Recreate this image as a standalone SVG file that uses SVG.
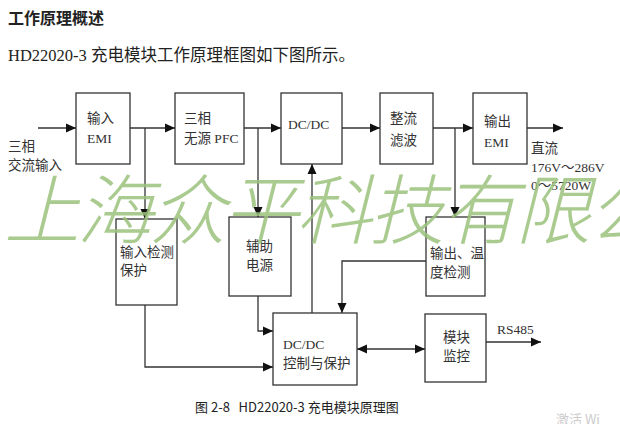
<svg xmlns="http://www.w3.org/2000/svg" width="620" height="424" viewBox="0 0 620 424">
<style>
.box{fill:#fff;stroke:#333;stroke-width:1.3}
.t{font-family:"Liberation Serif","Noto Sans CJK SC",serif;font-size:13.5px;fill:#333}
.ln{fill:none;stroke:#333;stroke-width:1.3}
.wm{font-family:"Noto Sans CJK SC",sans-serif;font-size:76px;font-style:italic;font-weight:300;fill:#9cc27c;opacity:0.85;letter-spacing:-3px}
</style>
<defs>
<marker id="ah" viewBox="0 0 10 10" refX="10" refY="5" markerWidth="10" markerHeight="10" markerUnits="userSpaceOnUse" orient="auto-start-reverse">
<path d="M0,0.5 L10,5 L0,9.5 z" fill="#111"/>
</marker>
</defs>
<rect width="620" height="424" fill="#fff"/>
<text x="8" y="24" style="font-family:'Noto Sans CJK SC',sans-serif;font-size:16px;font-weight:bold;fill:#222">工作原理概述</text>
<text x="8" y="61" style="font-family:'Liberation Serif','Noto Sans CJK SC',serif;font-size:16.5px;fill:#222">HD22020-3 充电模块工作原理框图如下图所示。</text>

<g id="connectors">
<line class="ln" x1="38" y1="128" x2="76" y2="128" marker-end="url(#ah)"/>
<line class="ln" x1="130" y1="128" x2="175" y2="128" marker-end="url(#ah)"/>
<line class="ln" x1="244" y1="128" x2="281" y2="128" marker-end="url(#ah)"/>
<line class="ln" x1="339" y1="128" x2="380" y2="128" marker-end="url(#ah)"/>
<line class="ln" x1="433" y1="128" x2="473" y2="128" marker-end="url(#ah)"/>
<line class="ln" x1="527" y1="128" x2="563" y2="128" marker-end="url(#ah)"/>
<line class="ln" x1="145" y1="128" x2="145" y2="219" marker-end="url(#ah)"/>
<line class="ln" x1="258" y1="128" x2="258" y2="217" marker-end="url(#ah)"/>
<line class="ln" x1="455" y1="128" x2="455" y2="217" marker-end="url(#ah)"/>
<line class="ln" x1="312" y1="313" x2="312" y2="164" marker-end="url(#ah)"/>
<polyline class="ln" points="426,261 342,261 342,313" marker-end="url(#ah)"/>
<polyline class="ln" points="258,296 258,331 273,331" marker-end="url(#ah)"/>
<polyline class="ln" points="145,305 145,367 273,367" marker-end="url(#ah)"/>
<line class="ln" x1="357" y1="349" x2="425" y2="349" marker-start="url(#ah)" marker-end="url(#ah)"/>
<line class="ln" x1="486" y1="342" x2="541" y2="342" marker-end="url(#ah)"/>
</g>

<g id="n-input-emi"><rect class="box" x="76" y="93" width="54" height="71"/><text class="t" x="87" y="123">输入</text><text class="t" x="87" y="143">EMI</text></g>
<g id="n-pfc"><rect class="box" x="175" y="93" width="69" height="71"/><text class="t" x="184" y="123">三相</text><text class="t" x="184" y="143">无源 PFC</text></g>
<g id="n-dcdc"><rect class="box" x="281" y="93" width="61" height="71"/><text class="t" x="288" y="129">DC/DC</text></g>
<g id="n-rect"><rect class="box" x="380" y="93" width="53" height="71"/><text class="t" x="390" y="123">整流</text><text class="t" x="390" y="145">滤波</text></g>
<g id="n-output-emi"><rect class="box" x="473" y="93" width="54" height="71"/><text class="t" x="484" y="126">输出</text><text class="t" x="484" y="147">EMI</text></g>
<g id="n-input-det"><rect class="box" x="116" y="219" width="61" height="86"/><text class="t" x="120" y="257">输入检测</text><text class="t" x="120" y="275">保护</text></g>
<g id="n-aux"><rect class="box" x="229" y="217" width="62" height="79"/><text class="t" x="246" y="251">辅助</text><text class="t" x="246" y="270">电源</text></g>
<g id="n-out-det"><rect class="box" x="426" y="217" width="59" height="79"/><text class="t" x="430" y="258">输出、温</text><text class="t" x="430" y="277">度检测</text></g>
<g id="n-ctrl"><rect class="box" x="273" y="313" width="84" height="72"/><text class="t" x="283" y="349">DC/DC</text><text class="t" x="283" y="368">控制与保护</text></g>
<g id="n-mon"><rect class="box" x="425" y="314" width="61" height="68"/><text class="t" x="443" y="342">模块</text><text class="t" x="443" y="361">监控</text></g>

<g id="labels">
<text class="t" x="8" y="151">三相</text>
<text class="t" x="8" y="170">交流输入</text>
<text class="t" x="531" y="153">直流</text>
<text class="t" x="531" y="172">176V～286V</text>
<text class="t" x="531" y="190">0～5720W</text>
<text class="t" x="497" y="334">RS485</text>
</g>

<text x="195" y="412" style="font-family:'Noto Sans CJK SC',sans-serif;font-size:13px;fill:#222">图 2-8&#160;&#160;&#160;HD22020-3 充电模块原理图</text>
<text x="556" y="424" style="font-family:'Noto Sans CJK SC',sans-serif;font-size:13px;fill:#ccc">激活 Wi</text>

<text class="wm" x="4" y="238">上海众平科技有限公</text>
</svg>
